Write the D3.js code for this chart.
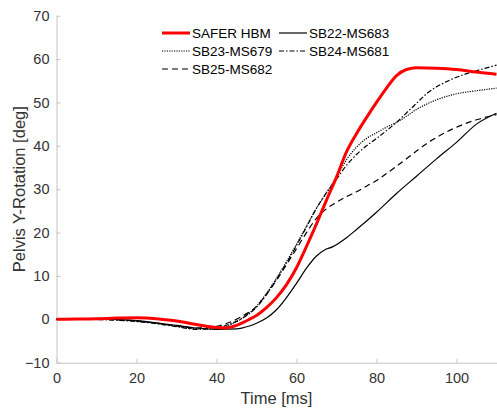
<!DOCTYPE html>
<html>
<head>
<meta charset="utf-8">
<script src="https://cdn.jsdelivr.net/npm/d3@7"></script>
<style>
  body { margin: 0; background: #fff; }
  text { font-family: Arial, "Liberation Sans", Helvetica, sans-serif; }
</style>
</head>
<body>
<svg id="chart" width="497" height="412"></svg>
<script>
// values (time in ms, rotation in deg)
const saferT = [0, 5, 10, 15, 20, 25, 30, 35, 40, 42, 45, 48, 50, 52.5, 55, 57.5, 60, 62.5, 65, 67.5, 70, 72.5, 75, 77.5, 80, 82.5, 85, 87.5, 90, 95, 100, 105, 110];
const saferV = [0, 0.05, 0.12, 0.28, 0.35, 0.15, -0.4, -1.2, -1.9, -2.0, -1.4, -0.1, 0.9, 2.7, 5, 8, 11.9, 16.8, 22, 27.5, 32.8, 38.6, 42.8, 46.5, 50, 53.3, 56.2, 57.6, 58, 57.9, 57.6, 57, 56.5];

const sb22T = [0, 5, 10, 15, 20, 25, 30, 35, 40, 45, 48, 50, 52.5, 55, 57.5, 60, 62.5, 65, 67, 69, 72.5, 75, 80, 85, 90, 95, 100, 105, 110];
const sb22V = [0, 0, 0.05, 0, -0.3, -0.8, -1.4, -2.0, -2.3, -2.2, -1.6, -0.9, 0.3, 2.2, 5, 8.3, 11.8, 14.6, 16, 16.7, 18.8, 20.7, 24.7, 29, 33, 37, 40.8, 45, 47.5];

const sb23T = [0, 5, 10, 15, 20, 25, 30, 35, 40, 43, 46, 50, 52.5, 55, 57.5, 60, 62.5, 65, 67.5, 70, 72.5, 75, 77.5, 80, 82.5, 85, 87.5, 90, 92.5, 95, 100, 105, 110];
const sb23V = [0, 0, 0, -0.1, -0.4, -0.9, -1.6, -2.2, -2.2, -1.4, 0, 3, 6, 9.5, 13.3, 17.3, 21.5, 25.6, 29.2, 32.8, 36.8, 39.7, 41.7, 43, 44.3, 45.4, 46.8, 48.4, 49.6, 50.6, 52, 52.7, 53.3];

const sb24T = [0, 5, 10, 15, 20, 25, 30, 35, 40, 43, 46, 50, 52.5, 55, 57.5, 60, 62.5, 65, 67.5, 70, 72.5, 75, 77.5, 80, 82.5, 85, 87.5, 90, 92.5, 95, 97.5, 100, 105, 110];
const sb24V = [0, 0, -0.05, -0.2, -0.5, -1.0, -1.7, -2.3, -2.0, -1.2, 0, 2.8, 5.7, 9.2, 13, 17, 21.3, 25.6, 29.2, 32.3, 35.5, 38, 40, 41.7, 43.5, 45.4, 47.6, 49.8, 52, 53.6, 54.8, 55.8, 57.3, 58.6];

const sb25T = [0, 5, 10, 15, 20, 25, 30, 35, 40, 43, 46, 50, 52.5, 55, 57.5, 60, 62.5, 65, 67.5, 70, 72.5, 75, 77.5, 80, 82.5, 85, 87.5, 90, 92.5, 95, 97.5, 100, 105, 110];
const sb25V = [0, 0, 0, -0.1, -0.4, -0.9, -1.5, -2.0, -1.6, -0.8, 0.5, 3, 5.8, 9, 12.6, 16.3, 20, 23.3, 25.5, 27, 28.3, 29.4, 30.7, 32, 33.6, 35.3, 37, 38.8, 40.5, 41.9, 43.2, 44.3, 46, 47.2];

const xTicks = [0, 20, 40, 60, 80, 100];
const yTicks = [-10, 0, 10, 20, 30, 40, 50, 60, 70];

const series = [
  { name: "SAFER HBM", t: saferT, v: saferV, color: "#ff0000", width: 3, dash: null },
  { name: "SB22-MS683", t: sb22T, v: sb22V, color: "#000", width: 1.2, dash: null },
  { name: "SB23-MS679", t: sb23T, v: sb23V, color: "#000", width: 1.2, dash: "1.2,1.2" },
  { name: "SB24-MS681", t: sb24T, v: sb24V, color: "#000", width: 1.2, dash: "5,2,1.5,2" },
  { name: "SB25-MS682", t: sb25T, v: sb25V, color: "#000", width: 1.2, dash: "6,4" }
];

const svg = d3.select("#chart");
const margin = { top: 15.7, right: 0.5, bottom: 49.3, left: 56.5 };
const width = 497 - margin.left - margin.right;
const height = 412 - margin.top - margin.bottom;

const g = svg.append("g")
  .attr("transform", `translate(${margin.left}, ${margin.top})`);

const x = d3.scaleLinear().domain([0, 110]).range([0, width]);
const y = d3.scaleLinear().domain([-10, 70]).range([height, 0]);

// X-Axis (ticks inward)
const xAxis = g.append("g")
  .attr("transform", `translate(0,${height})`)
  .call(d3.axisBottom(x).tickValues(xTicks).tickSizeInner(-4).tickSizeOuter(0).tickPadding(10));

// Y-Axis (ticks inward)
const yAxis = g.append("g")
  .call(d3.axisLeft(y).tickValues(yTicks).tickSizeInner(-4).tickSizeOuter(0).tickPadding(7));

[xAxis, yAxis].forEach((a) => {
  a.select(".domain").attr("stroke", "#c4c4c4").attr("stroke-width", 1);
  a.selectAll(".tick line").attr("stroke", "#c4c4c4");
  a.selectAll(".tick text").attr("fill", "#333").style("font-size", "14.5px");
});

const line = d3.line()
  .x((d) => x(d[0]))
  .y((d) => y(d[1]))
  .curve(d3.curveMonotoneX);

// black curves first, red on top
[1, 2, 3, 4, 0].forEach((i) => {
  const s = series[i];
  g.append("path")
    .datum(s.t.map((t, k) => [t, s.v[k]]))
    .attr("fill", "none")
    .attr("stroke", s.color)
    .attr("stroke-width", s.width)
    .attr("stroke-dasharray", s.dash)
    .attr("d", line);
});

// Legend
const legendPos = [[162, 33], [279, 33], [162, 51], [279, 51], [162, 69]];
series.forEach((s, k) => {
  const [lx, ly] = legendPos[k];
  svg.append("line")
    .attr("x1", lx).attr("x2", lx + 28)
    .attr("y1", ly).attr("y2", ly)
    .attr("stroke", s.color)
    .attr("stroke-width", s.width)
    .attr("stroke-dasharray", s.dash);
  svg.append("text")
    .attr("x", lx + 30)
    .attr("y", ly + 5)
    .attr("fill", "#000")
    .style("font-size", "13.5px")
    .text(s.name);
});

// X-axis label
svg.append("text")
  .attr("x", margin.left + width / 2)
  .attr("y", 404)
  .attr("text-anchor", "middle")
  .attr("fill", "#333")
  .style("font-size", "16.5px")
  .text("Time [ms]");

// Y-axis label
svg.append("text")
  .attr("transform", "rotate(-90)")
  .attr("x", -(margin.top + height / 2))
  .attr("y", 25)
  .attr("text-anchor", "middle")
  .attr("fill", "#333")
  .style("font-size", "16.5px")
  .text("Pelvis Y-Rotation [deg]");
</script>
</body>
</html>
